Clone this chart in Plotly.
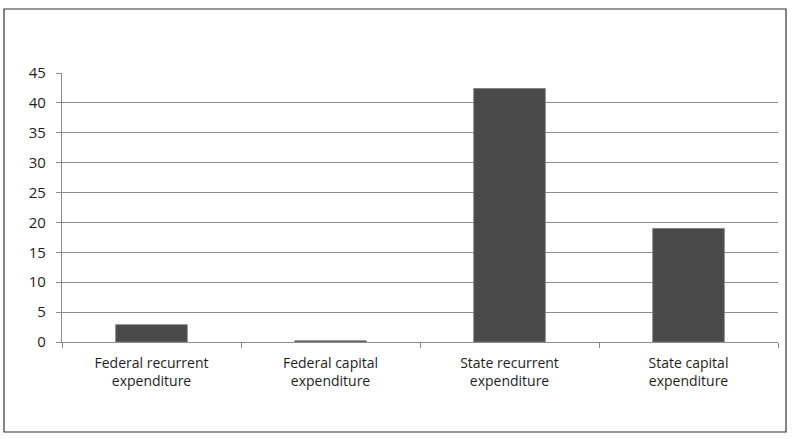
import plotly.graph_objects as go

categories = [
    "Federal recurrent<br>expenditure",
    "Federal capital<br>expenditure",
    "State recurrent<br>expenditure",
    "State capital<br>expenditure",
]
values = [2.9, 0.2, 42.4, 19.0]
y_ticks = [0, 5, 10, 15, 20, 25, 30, 35, 40, 45]

W, H = 796, 439
L, R, T, B = 62, 18, 73, 97
pw, ph = W - L - R, H - T - B

def px_x(x):
    return (x - L) / pw

def px_y(y):
    return (H - B - y) / ph

fig = go.Figure(
    go.Bar(
        x=categories,
        y=values,
        marker=dict(color="#4a4a4a", line=dict(color="#7a7a7a", width=0.8)),
        width=0.4,
    )
)

font = dict(family="Open Sans, Noto Sans, sans-serif", size=14, color="#1e1e1e")

fig.update_layout(
    width=W,
    height=H,
    margin=dict(l=L, r=R, t=T, b=B),
    paper_bgcolor="white",
    plot_bgcolor="white",
    showlegend=False,
    font=font,
    bargap=0.6,
    xaxis=dict(
        showline=True,
        linecolor="#8c8c8c",
        linewidth=1.2,
        ticks="outside",
        tickson="boundaries",
        ticklen=5,
        tickcolor="#8c8c8c",
        showgrid=False,
        ticklabelstandoff=8,
        tickfont=dict(size=14, color="#1e1e1e"),
    ),
    yaxis=dict(
        range=[0, 45],
        tickvals=y_ticks,
        showline=True,
        linecolor="#8c8c8c",
        linewidth=1.2,
        ticks="outside",
        ticklen=5,
        tickcolor="#8c8c8c",
        showgrid=True,
        gridcolor="#8c8c8c",
        gridwidth=1.2,
        zeroline=False,
        ticklabelstandoff=7,
        tickfont=dict(size=15, color="#1e1e1e"),
    ),
    shapes=[
        dict(
            type="rect",
            xref="paper",
            yref="paper",
            x0=px_x(4),
            x1=px_x(786),
            y0=px_y(432),
            y1=px_y(9),
            line=dict(color="#333333", width=1.2),
            fillcolor="rgba(0,0,0,0)",
            layer="below",
        )
    ],
)

fig.write_html("out.html")
